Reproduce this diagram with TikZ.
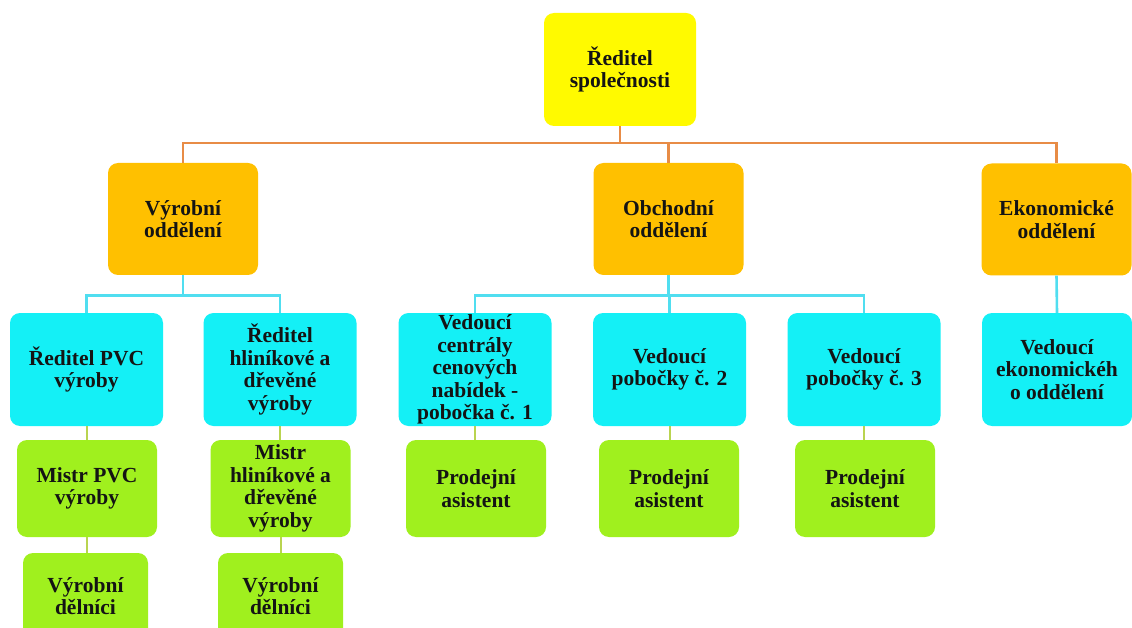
\documentclass[tikz,border=0pt]{standalone}
\usepackage{fontspec}
\setmainfont{Liberation Serif}
\definecolor{cyellow}{RGB}{255,250,0}
\definecolor{corange}{RGB}{255,192,0}
\definecolor{ccyan}{RGB}{20,240,246}
\definecolor{cgreen}{RGB}{160,240,30}
\definecolor{lorange}{RGB}{232,140,70}
\definecolor{lcyan}{RGB}{80,222,240}
\definecolor{lgreen}{RGB}{185,212,80}
\definecolor{ctext}{RGB}{20,20,20}
\begin{document}
\begin{tikzpicture}[x=1pt,y=-1pt,
  box/.style={rounded corners=10pt, inner sep=0pt, align=center, text=ctext,
    font=\fontsize{21.5}{22.5}\selectfont\bfseries},
  topbox/.style={box, fill=cyellow, minimum width=152pt, minimum height=113pt},
  depbox/.style={box, fill=corange, minimum width=150pt, minimum height=112pt},
  headbox/.style={box, fill=ccyan, minimum width=153pt, minimum height=113pt},
  workbox/.style={box, fill=cgreen, minimum width=140pt, minimum height=97pt},
  lowbox/.style={box, fill=cgreen, minimum width=125pt, minimum height=86pt},
  oline/.style={draw=lorange, line width=2.6pt},
  cline/.style={draw=lcyan, line width=2.6pt},
  gline/.style={draw=lgreen, line width=2pt}]
\clip (0,0) rectangle (1132,628);
\fill[white] (0,0) rectangle (1132,628);

\node[topbox] (top) at (620,69.5) {Ředitel\\společnosti};

\node[depbox] (vyr) at (183,219) {Výrobní\\oddělení};
\node[depbox] (obch) at (668.5,219) {Obchodní\\oddělení};
\node[depbox] (eko) at (1056.5,219.5) {Ekonomické\\oddělení};

\node[headbox] (pvc) at (86.5,369.5) {Ředitel PVC\\výroby};
\node[headbox] (hlin) at (280,369.5) {Ředitel\\hliníkové a\\dřevěné\\výroby};
\node[headbox] (ved1) at (475,369.5) {Vedoucí\\centrály\\cenových\\nabídek -\\pobočka č. 1};
\node[headbox] (ved2) at (669.5,369.5) {Vedoucí\\pobočky č. 2};
\node[headbox] (ved3) at (864,369.5) {Vedoucí\\pobočky č. 3};
\node[headbox, minimum width=150pt] (vedeko) at (1057,369.5) {Vedoucí\\ekonomickéh\\o oddělení};

\node[workbox] (mpvc) at (87,488.5) {Mistr PVC\\výroby};
\node[workbox] (mhlin) at (280.5,488.5) {Mistr\\hliníkové a\\dřevěné\\výroby};
\node[workbox] (pa1) at (476,488.5) {Prodejní\\asistent};
\node[workbox] (pa2) at (669,488.5) {Prodejní\\asistent};
\node[workbox] (pa3) at (865,488.5) {Prodejní\\asistent};

\node[lowbox] (del1) at (85.5,596) {Výrobní\\dělníci};
\node[lowbox] (del2) at (280.5,596) {Výrobní\\dělníci};

% orange connectors
\coordinate (obus) at (620,143);
\draw[oline] (top.south) -- (top.south |- obus);
\draw[oline] (vyr.north) -- (vyr.north |- obus) -- (eko.north |- obus) -- (eko.north);
\draw[oline] (obch.north) -- (obch.north |- obus);

% cyan connectors
\coordinate (cbus1) at (183,295.5);
\draw[cline] (vyr.south) -- (cbus1);
\draw[cline] (pvc.north) -- (pvc.north |- cbus1) -- (hlin.north |- cbus1) -- (hlin.north);
\coordinate (cbus2) at (668.5,295.5);
\draw[cline] (obch.south) -- (cbus2);
\draw[cline] (ved1.north) -- (ved1.north |- cbus2) -- (ved3.north |- cbus2) -- (ved3.north);
\draw[cline] (ved2.north) -- (ved2.north |- cbus2);
\draw[cline] (eko.south) -- (vedeko.north);

% green connectors
\draw[gline] (pvc.south) -- (pvc.south |- mpvc.north);
\draw[gline] (hlin.south) -- (hlin.south |- mhlin.north);
\draw[gline] (ved1.south) -- (ved1.south |- pa1.north);
\draw[gline] (ved2.south) -- (ved2.south |- pa2.north);
\draw[gline] (ved3.south) -- (ved3.south |- pa3.north);
\draw[gline] (mpvc.south) -- (mpvc.south |- del1.north);
\draw[gline] (mhlin.south) -- (mhlin.south |- del2.north);
\end{tikzpicture}
\end{document}
